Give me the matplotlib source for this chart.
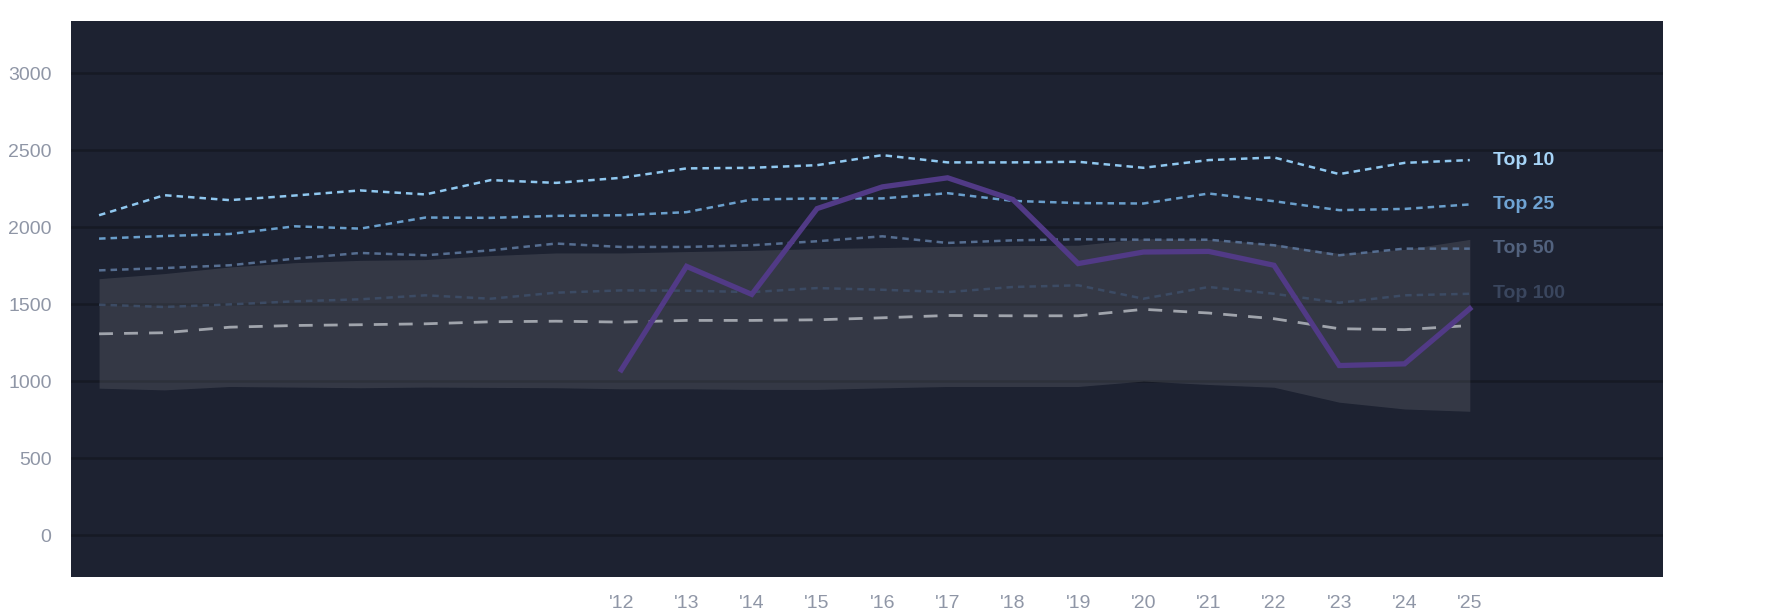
import matplotlib
matplotlib.use('Agg')
import matplotlib.pyplot as plt
import numpy as np

plt.rcParams['font.family'] = ['Liberation Sans', 'DejaVu Sans']

# Data
years = list(range(2004, 2026))
top10 = [2077, 2207, 2175, 2205, 2238, 2212, 2305, 2287, 2320, 2381, 2385, 2402,
         2467, 2420, 2420, 2424, 2385, 2435, 2452, 2344, 2417, 2435]
top25 = [1925, 1942, 1955, 2005, 1990, 2062, 2060, 2073, 2077, 2097, 2179, 2186,
         2186, 2220, 2170, 2156, 2153, 2218, 2168, 2110, 2118, 2147]
top50 = [1719, 1734, 1752, 1795, 1832, 1817, 1849, 1893, 1871, 1871, 1882, 1908,
         1940, 1897, 1914, 1921, 1918, 1918, 1882, 1817, 1860, 1860]
top100 = [1496, 1481, 1498, 1518, 1531, 1557, 1535, 1574, 1589, 1587, 1578, 1604,
          1593, 1578, 1611, 1622, 1535, 1611, 1567, 1509, 1557, 1567]
median = [1307, 1314, 1350, 1361, 1366, 1372, 1385, 1389, 1383, 1394, 1394, 1398,
          1411, 1426, 1424, 1424, 1466, 1442, 1405, 1340, 1334, 1361]
band_hi = [1665, 1698, 1741, 1769, 1784, 1789, 1815, 1832, 1832, 1841, 1849, 1860,
           1867, 1875, 1880, 1882, 1925, 1920, 1890, 1829, 1855, 1920]
band_lo = [954, 943, 965, 961, 957, 961, 959, 957, 950, 950, 946, 946,
           956, 965, 965, 965, 1000, 978, 960, 863, 819, 804]
player_years = list(range(2012, 2026))
player = [1073, 1745, 1563, 2120, 2261, 2320, 2179, 1763, 1838, 1842, 1752, 1101, 1112, 1470]

tick_years = list(range(2012, 2026))
tick_labels = ["'%02d" % (y % 100) for y in tick_years]

# Styles
bg = '#1d2231'
grid_col = '#161a24'
tick_col = '#8f96a6'
tiers = [
    ('Top 10', top10, '#90c8f0', '#a6d4f7'),
    ('Top 25', top25, '#6a9fcc', '#6fa3d3'),
    ('Top 50', top50, '#566e91', '#52627e'),
    ('Top 100', top100, '#3c4b64', '#3a465e'),
]

fig = plt.figure(figsize=(17.85, 6.14), dpi=100)
ax = fig.add_axes([71 / 1785, 1 - 576.7 / 614, (1663 - 71) / 1785, (576.7 - 20.7) / 614])
ax.set_facecolor(bg)

for v in range(0, 3001, 500):
    ax.axhline(v, color=grid_col, linewidth=1.8, zorder=1)

ax.fill_between(years, band_lo, band_hi, color='white', alpha=0.1, linewidth=0, zorder=2)

for name, vals, col, txt_col in tiers:
    ax.plot(years, vals, color=col, linewidth=1.8, dashes=(2.6, 2.0), zorder=3)
    ax.text(years[-1] + 0.35, vals[-1], name, color=txt_col, fontsize=14,
            fontweight='bold', va='center', ha='left', zorder=5)

ax.plot(years, median, color='#a0a4ac', linewidth=2.0, dashes=(5, 4), zorder=3)
ax.plot(player_years, player, color='#513a86', linewidth=3.8, zorder=4,
        solid_joinstyle='miter')

ax.set_xlim(2003.57, 2027.96)
ax.set_ylim(-270, 3340)
ax.set_yticks(range(0, 3001, 500))
ax.set_xticks(tick_years)
ax.set_xticklabels(tick_labels)
ax.tick_params(axis='both', length=0, labelsize=14, labelcolor=tick_col)
ax.tick_params(axis='y', pad=14)
ax.tick_params(axis='x', pad=13)
for s in ax.spines.values():
    s.set_visible(False)

fig.savefig('out.png', dpi=100, facecolor='white')
